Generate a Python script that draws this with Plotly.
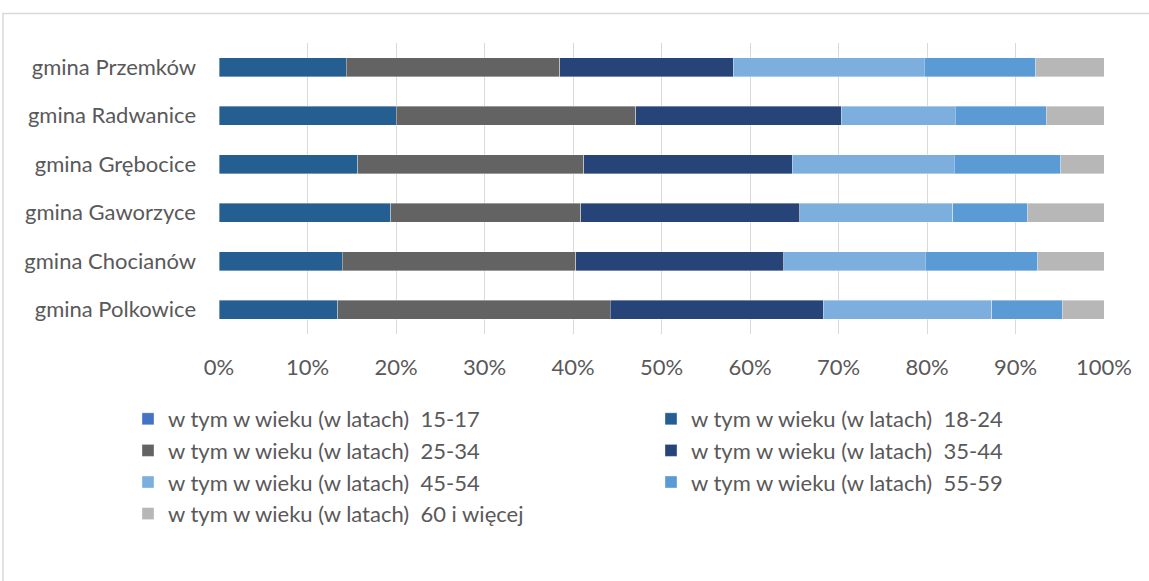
import plotly.graph_objects as go

categories = ["gmina Przemków", "gmina Radwanice", "gmina Grębocice",
              "gmina Gaworzyce", "gmina Chocianów", "gmina Polkowice"]

series_names = [
    "w tym w wieku (w latach)  15-17",
    "w tym w wieku (w latach)  18-24",
    "w tym w wieku (w latach)  25-34",
    "w tym w wieku (w latach)  35-44",
    "w tym w wieku (w latach)  45-54",
    "w tym w wieku (w latach)  55-59",
    "w tym w wieku (w latach)  60 i więcej",
]

age_15_17 = [0.0, 0.0, 0.0, 0.0, 0.0, 0.0]
age_18_24 = [14.4, 20.0, 15.7, 19.4, 13.9, 13.4]
age_25_34 = [24.1, 27.1, 25.5, 21.5, 26.4, 30.8]
age_35_44 = [19.6, 23.2, 23.6, 24.7, 23.5, 24.1]
age_45_54 = [21.6, 12.9, 18.3, 17.3, 16.0, 19.0]
age_55_59 = [12.6, 10.3, 12.0, 8.5, 12.7, 8.0]
age_60_plus = [7.7, 6.5, 4.9, 8.6, 7.5, 4.7]

series_values = [age_15_17, age_18_24, age_25_34, age_35_44, age_45_54, age_55_59, age_60_plus]
colors = ["#4472C4", "#255E91", "#636363", "#264478", "#7CAFDD", "#5B9BD5", "#B7B7B7"]

tick_vals = list(range(0, 101, 10))
tick_text = [f"{v}%" for v in tick_vals]

FONT = "Lato"
FS = 22
TXT = "#595959"

# plot area in figure pixels
L, T, PW, PH = 219, 43, 885, 291
W, H = 1149, 581

fig = go.Figure()
for name, vals, col in zip(series_names, series_values, colors):
    fig.add_trace(go.Bar(
        y=categories, x=vals, name=name, orientation="h",
        marker=dict(color=col, line=dict(color="rgba(255,255,255,0.6)", width=0.6)),
        hoverinfo="x+y+name",
    ))

fig.update_layout(
    barmode="stack",
    barnorm="percent",
    bargap=0.6,
    width=W, height=H,
    margin=dict(l=L, r=W - L - PW, t=T, b=H - T - PH, autoexpand=False),
    paper_bgcolor="white",
    plot_bgcolor="white",
    font=dict(family=FONT, size=FS, color=TXT),
    xaxis=dict(
        range=[0, 100], tickvals=tick_vals, ticktext=tick_text,
        showgrid=True, gridcolor="#D9D9D9", gridwidth=1.3,
        zeroline=False, showline=False, ticks="", ticklabelstandoff=18,
        tickfont=dict(family=FONT, size=FS, color=TXT),
    ),
    yaxis=dict(
        categoryorder="array", categoryarray=categories, autorange="reversed",
        showgrid=False, zeroline=False, showline=False, ticks="",
        ticklabelstandoff=22,
        tickfont=dict(family=FONT, size=FS, color=TXT),
    ),
    legend=dict(
        orientation="h", x=(128 - L) / PW, xanchor="left",
        y=-64 / PH, yanchor="top",
        entrywidth=478, entrywidthmode="pixels", traceorder="normal",
        font=dict(family=FONT, size=FS, color=TXT),
        itemwidth=30, tracegroupgap=0,
    ),
    shapes=[dict(type="rect", xref="paper", yref="paper",
                 x0=(3 - L) / PW, x1=(W + 20 - L) / PW,
                 y0=-(H + 20 - T - PH) / PH, y1=1 + (T - 13.5) / PH,
                 line=dict(color="#D9D9D9", width=1.5), fillcolor="rgba(0,0,0,0)", layer="below")],
)

fig.write_html(
    "out.html",
    config={"displayModeBar": False},
    post_script="document.body.style.margin='0';document.body.style.overflow='hidden';",
)
